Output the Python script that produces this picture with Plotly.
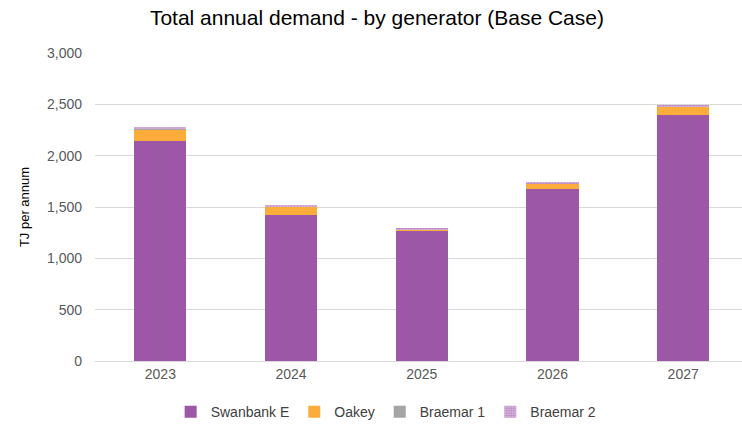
import plotly.graph_objects as go

years = ["2023", "2024", "2025", "2026", "2027"]
swanbank_e = [2145, 1420, 1265, 1680, 2400]
oakey = [105, 80, 20, 45, 75]
braemar_1 = [10, 0, 0, 0, 0]
braemar_2 = [15, 15, 10, 20, 20]

y_ticks = [0, 500, 1000, 1500, 2000, 2500, 3000]

FONT = "Liberation Sans Narrow, Arial Narrow, Liberation Sans, Arial, sans-serif"
PURPLE = "#9C57A7"

fig = go.Figure()
fig.add_trace(go.Bar(name="Swanbank E", x=years, y=swanbank_e, marker=dict(color=PURPLE, line=dict(width=0))))
fig.add_trace(go.Bar(name="Oakey", x=years, y=oakey, marker=dict(color="#FBAC3A", line=dict(width=0))))
fig.add_trace(go.Bar(name="Braemar 1", x=years, y=braemar_1, marker=dict(color="#A5A5A5", line=dict(width=0))))
fig.add_trace(go.Bar(name="Braemar 2", x=years, y=braemar_2,
                     marker=dict(color="#D7B5DC", line=dict(width=0),
                                 pattern=dict(shape=".", fgcolor=PURPLE, bgcolor="#DDBFE1", size=3, solidity=0.6))))

fig.update_layout(
    barmode="stack",
    bargap=0.6,
    width=742, height=425,
    margin=dict(l=95, r=0, t=53, b=64, autoexpand=False),
    paper_bgcolor="white", plot_bgcolor="white",
    font=dict(family=FONT, color="#595959", size=14),
    title=dict(text="Total annual demand - by generator (Base Case)", x=0.508, xanchor="center",
               y=0.958, yanchor="middle", font=dict(family=FONT, size=21, color="#000000")),
    legend=dict(orientation="h", x=0.45, xanchor="center", yref="container", y=0.03, yanchor="middle",
                font=dict(family=FONT, size=14, color="#404040"), traceorder="normal",
                itemwidth=30, tracegroupgap=0),
    showlegend=True,
)
fig.update_xaxes(range=[-0.5, 4.45], showgrid=False, showline=True, linecolor="#D9D9D9",
                 ticks="", tickfont=dict(size=14, color="#595959"))
fig.update_yaxes(range=[0, 3000], tickvals=y_ticks, tickformat=",", showgrid=True, gridcolor="#D9D9D9",
                 zeroline=False, ticks="", ticklabelstandoff=12,
                 title=dict(text="TJ per annum", font=dict(size=13, color="#000000"), standoff=14),
                 tickfont=dict(size=14, color="#595959"))

fig.write_html("out.html")
